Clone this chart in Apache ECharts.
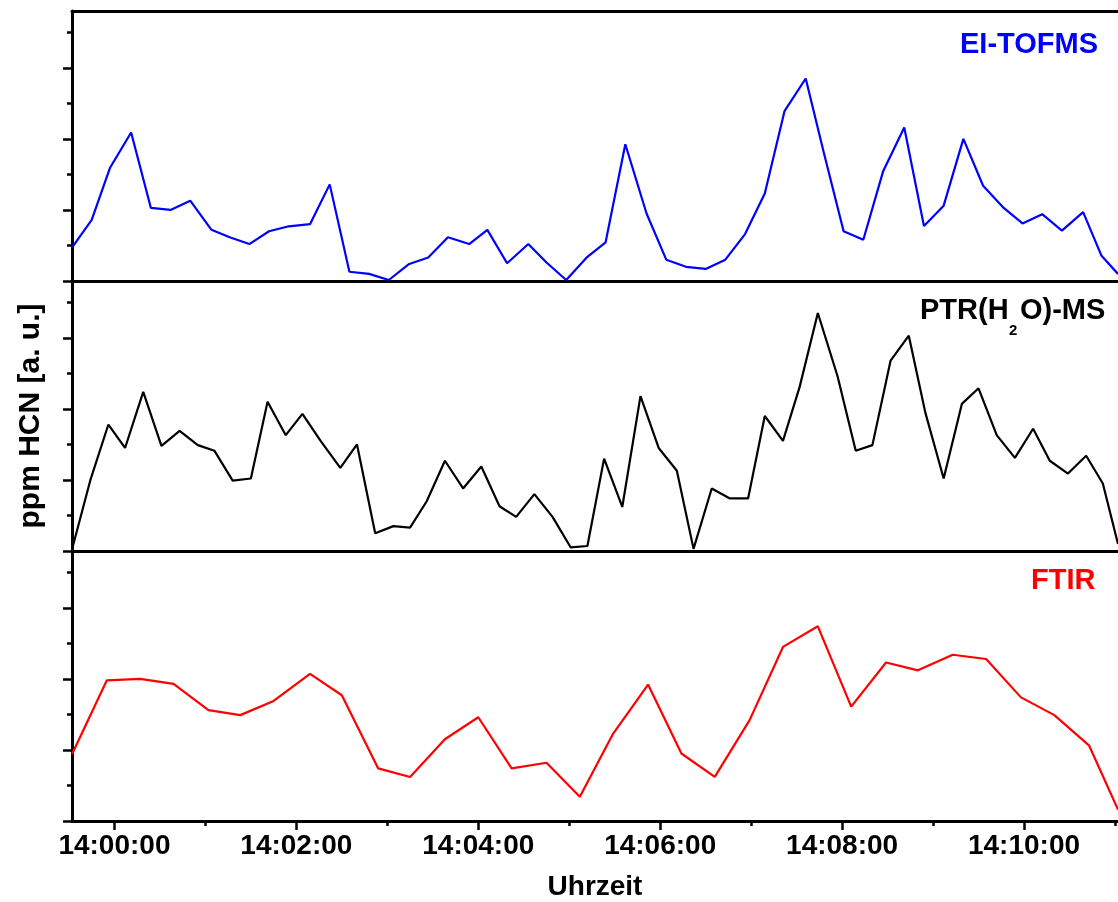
<!DOCTYPE html>
<html>
<head>
<meta charset="utf-8">
<title>HCN</title>
<script src="https://cdn.jsdelivr.net/npm/echarts@6/dist/echarts.min.js"></script>
<style>
  html, body { margin: 0; padding: 0; background: #fff; }
  #chart { width: 1118px; height: 902px; }
</style>
</head>
<body>
<div id="chart"></div>
<script>
// Time window of the x axis
const xStart = '13:59:32';
const xEnd = '14:11:02';

// Tick labels (major) and minor tick positions on the time axis
const tickLabels = ['14:00:00', '14:02:00', '14:04:00', '14:06:00', '14:08:00', '14:10:00'];
const minorTimes = ['14:01:00', '14:03:00', '14:05:00', '14:07:00', '14:09:00', '14:11:00'];

// y ticks (arbitrary units), shared by all three panels
const yMajor = [0, 1, 2, 3];
const yMinor = [0.5, 1.5, 2.5, 3.5];
const yMax = 3.8;

// EI-TOFMS signal
const eiTimes = ['13:59:32','13:59:45','13:59:57','14:00:11','14:00:24','14:00:37','14:00:50','14:01:04','14:01:16','14:01:29',
  '14:01:42','14:01:55','14:02:09','14:02:22','14:02:35','14:02:48','14:03:01','14:03:14','14:03:27','14:03:40',
  '14:03:54','14:04:06','14:04:19','14:04:33','14:04:45','14:04:58','14:05:12','14:05:24','14:05:37','14:05:51',
  '14:06:04','14:06:17','14:06:30','14:06:43','14:06:56','14:07:09','14:07:22','14:07:36','14:07:48','14:08:01',
  '14:08:14','14:08:27','14:08:41','14:08:54','14:09:07','14:09:20','14:09:33','14:09:46','14:09:59','14:10:12',
  '14:10:25','14:10:39','14:10:51','14:11:02'];
const eiValues = [0.47, 0.86, 1.59, 2.09, 1.03, 1.00, 1.13, 0.72, 0.615, 0.52,
  0.70, 0.77, 0.80, 1.36, 0.13, 0.10, 0.014, 0.235, 0.33, 0.615,
  0.52, 0.72, 0.25, 0.52, 0.26, 0.014, 0.34, 0.545, 1.925, 0.95,
  0.30, 0.20, 0.17, 0.30, 0.66, 1.23, 2.39, 2.85, 1.80, 0.70,
  0.58, 1.54, 2.16, 0.775, 1.06, 2.0, 1.34, 1.04, 0.81, 0.94,
  0.71, 0.97, 0.36, 0.10];

// PTR(H2O)-MS signal
const ptrTimes = ['13:59:32','13:59:44','13:59:56','14:00:07','14:00:19','14:00:31','14:00:43','14:00:55','14:01:06','14:01:18',
  '14:01:30','14:01:41','14:01:53','14:02:04','14:02:16','14:02:29','14:02:40','14:02:52','14:03:04','14:03:15',
  '14:03:26','14:03:38','14:03:50','14:04:02','14:04:14','14:04:25','14:04:37','14:04:49','14:05:01','14:05:12',
  '14:05:23','14:05:35','14:05:47','14:05:59','14:06:11','14:06:22','14:06:34','14:06:46','14:06:58','14:07:09',
  '14:07:21','14:07:32','14:07:44','14:07:57','14:08:09','14:08:20','14:08:32','14:08:44','14:08:55','14:09:07',
  '14:09:19','14:09:30','14:09:42','14:09:54','14:10:06','14:10:17','14:10:29','14:10:41','14:10:52','14:11:02'];
const ptrValues = [0.02, 0.99, 1.78, 1.45, 2.24, 1.48, 1.69, 1.49, 1.41, 0.99,
  1.02, 2.10, 1.63, 1.93, 1.55, 1.17, 1.50, 0.25, 0.35, 0.33,
  0.70, 1.27, 0.88, 1.19, 0.63, 0.48, 0.80, 0.48, 0.05, 0.07,
  1.30, 0.62, 2.18, 1.45, 1.13, 0.03, 0.88, 0.74, 0.74, 1.90,
  1.55, 2.31, 3.35, 2.46, 1.41, 1.49, 2.68, 3.03, 1.94, 1.02,
  2.07, 2.29, 1.63, 1.31, 1.72, 1.27, 1.09, 1.34, 0.95, 0.10];

// FTIR signal
const ftirTimes = ['13:59:32','13:59:55','14:00:17','14:00:39','14:01:02','14:01:23','14:01:45','14:02:09','14:02:30','14:02:54',
  '14:03:15','14:03:38','14:04:00','14:04:22','14:04:45','14:05:07','14:05:29','14:05:52','14:06:14','14:06:36',
  '14:06:59','14:07:21','14:07:44','14:08:06','14:08:29','14:08:50','14:09:13','14:09:35','14:09:58','14:10:20',
  '14:10:43','14:11:02'];
const ftirValues = [0.94, 1.98, 2.00, 1.93, 1.56, 1.49, 1.69, 2.07, 1.77, 0.74,
  0.62, 1.15, 1.46, 0.74, 0.82, 0.34, 1.23, 1.92, 0.95, 0.62,
  1.42, 2.45, 2.74, 1.61, 2.23, 2.12, 2.34, 2.28, 1.74, 1.49,
  1.06, 0.16];

const FONT = "'Liberation Sans', Arial, sans-serif";

function toSec(s) {
  const p = s.split(':').map(Number);
  return p[0] * 3600 + p[1] * 60 + p[2];
}
function pad(n) { return (n < 10 ? '0' : '') + n; }
function fmtTime(sec) {
  const h = Math.floor(sec / 3600), m = Math.floor((sec % 3600) / 60), s = Math.round(sec % 60);
  return pad(h) + ':' + pad(m) + ':' + pad(s);
}
function pairs(times, values) {
  return times.map((t, i) => [toSec(t), values[i]]);
}

const xMin = toSec(xStart), xMax = toSec(xEnd);
const majorSec = tickLabels.map(toSec);
const minorSec = minorTimes.map(toSec);

const black = '#000000';
const gridTops = [11, 281, 551];
const panelHeight = 270;

function plainX(gridIndex, position) {
  return {
    type: 'value', gridIndex: gridIndex, position: position, min: xMin, max: xMax,
    axisLine: { show: true, onZero: false, lineStyle: { color: black, width: 3 } },
    axisTick: { show: false }, axisLabel: { show: false }, splitLine: { show: false }
  };
}

const xAxes = [
  plainX(0, 'bottom'),
  plainX(0, 'top'),
  plainX(1, 'bottom'),
  {
    type: 'value', gridIndex: 2, position: 'bottom', min: xMin, max: xMax,
    name: 'Uhrzeit', nameLocation: 'middle', nameGap: 52,
    nameTextStyle: { fontFamily: FONT, fontSize: 28, fontWeight: 'bold', color: black },
    axisLine: { show: true, onZero: false, lineStyle: { color: black, width: 3 } },
    axisTick: { show: true, inside: false, length: 9, customValues: majorSec, lineStyle: { color: black, width: 2.5 } },
    axisLabel: {
      show: true, customValues: majorSec, margin: 11,
      fontFamily: FONT, fontSize: 28, fontWeight: 'bold', color: black,
      formatter: v => fmtTime(v)
    },
    splitLine: { show: false }
  },
  {
    type: 'value', gridIndex: 2, position: 'bottom', min: xMin, max: xMax,
    axisLine: { show: false },
    axisTick: { show: true, inside: false, length: 5, customValues: minorSec, lineStyle: { color: black, width: 2.5 } },
    axisLabel: { show: false }, splitLine: { show: false }
  }
];

const yAxes = [];
[0, 1, 2].forEach(g => {
  const major = {
    type: 'value', gridIndex: g, position: 'left', min: 0, max: yMax,
    axisLine: { show: true, onZero: false, lineStyle: { color: black, width: 3 } },
    axisTick: { show: true, inside: false, length: 9, customValues: yMajor, lineStyle: { color: black, width: 2.5 } },
    axisLabel: { show: false }, splitLine: { show: false }
  };
  if (g === 1) {
    major.name = 'ppm HCN [a. u.]';
    major.nameLocation = 'middle';
    major.nameRotate = 90;
    major.nameGap = 26;
    major.nameTextStyle = { fontFamily: FONT, fontSize: 30, fontWeight: 'bold', color: black };
  }
  yAxes.push(major);
  yAxes.push({
    type: 'value', gridIndex: g, position: 'left', min: 0, max: yMax,
    axisLine: { show: false },
    axisTick: { show: true, inside: false, length: 5, customValues: yMinor, lineStyle: { color: black, width: 2.5 } },
    axisLabel: { show: false }, splitLine: { show: false }
  });
});

function seriesLine(name, data, color, xi, yi) {
  return {
    name: name, type: 'line', data: data, xAxisIndex: xi, yAxisIndex: yi,
    showSymbol: false, symbol: 'none', smooth: false, clip: true, silent: true,
    lineStyle: { color: color, width: 2.2 }, z: 1
  };
}

function label(text, left, top, color, size) {
  return {
    text: text, left: left, top: top, padding: 0,
    textStyle: { fontFamily: FONT, fontSize: size, fontWeight: 'bold', color: color }
  };
}

const option = {
  animation: false,
  backgroundColor: '#ffffff',
  grid: gridTops.map(t => ({ left: 72, right: 0, top: t, height: panelHeight })),
  xAxis: xAxes,
  yAxis: yAxes,
  title: [
    label('EI-TOFMS', 960, 30, '#0000ff', 29),
    label('PTR(H', 920, 296, black, 29),
    label('2', 1009, 323, black, 15),
    label('O)-MS', 1020, 296, black, 29),
    label('FTIR', 1031, 566, '#ff0000', 29)
  ],
  series: [
    seriesLine('EI-TOFMS', pairs(eiTimes, eiValues), '#0000ff', 0, 0),
    seriesLine('PTR(H2O)-MS', pairs(ptrTimes, ptrValues), '#000000', 2, 2),
    seriesLine('FTIR', pairs(ftirTimes, ftirValues), '#ff0000', 3, 4)
  ]
};

const chart = echarts.init(document.getElementById('chart'), null, { renderer: 'canvas' });
chart.setOption(option);
</script>
</body>
</html>
